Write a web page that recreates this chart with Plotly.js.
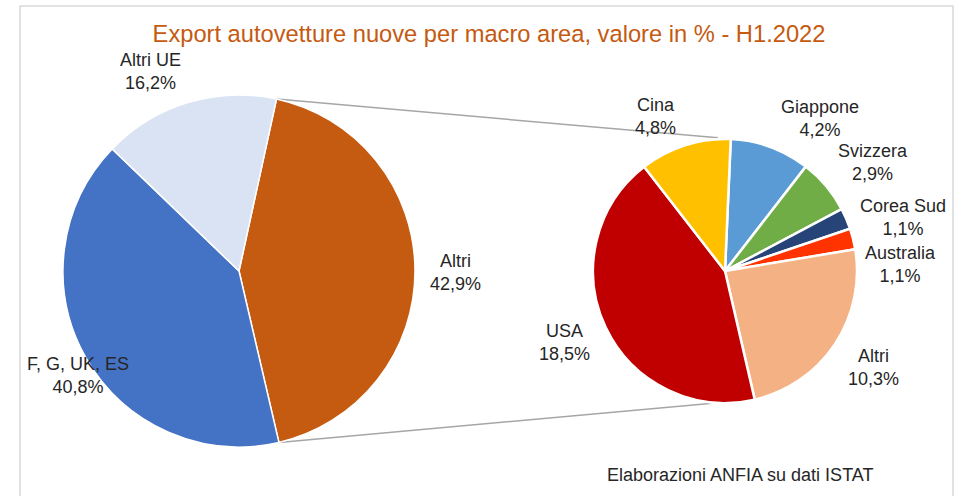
<!DOCTYPE html>
<html><head><meta charset="utf-8">
<script src="https://cdn.plot.ly/plotly-3.0.1.min.js"></script>
<style>html,body{margin:0;padding:0;background:#fff}#chart{width:962px;height:496px}</style>
</head><body><div id="chart"></div>
<script>
// ---- data ----
const mainLabels = ['Altri', 'F, G, UK, ES', 'Altri UE'];
const mainValues = [42.9, 40.8, 16.2];
const subLabels = ['Giappone', 'Svizzera', 'Corea Sud', 'Australia', 'Altri', 'USA', 'Cina'];
const subValues = [4.2, 2.9, 1.1, 1.1, 10.3, 18.5, 4.8];
const titleText = 'Export autovetture nuove per macro area, valore in % - H1.2022';
const sourceText = 'Elaborazioni ANFIA su dati ISTAT';

// ---- style ----
const mainColors = ['#C55A11', '#4472C4', '#DAE3F3'];
const subColors = ['#5B9BD5', '#70AD47', '#264478', '#FF3300', '#F4B183', '#C00000', '#FFC000'];
const W = 962, H = 496;
const FONT = 'Liberation Sans, Arial, sans-serif';
const TXT = '#262626';
const mainPie = {cx: 239, cy: 271, r: 176, rotation: 12.3, shift: [0.8, -3.3, -7.1], dist: [1.23, 1.09, 1.24]};
const subPie = {cx: 725, cy: 271, r: 132, rotation: 2.5, shift: [11.8, 4, 6.7, 12.1, -0.7, 1.5, -6.5], dist: [1.36, 1.39, 1.41, 1.33, 1.34, 1.33, 1.28]};

function domainOf(p) {
  return {x: [(p.cx - p.r) / W, (p.cx + p.r) / W], y: [1 - (p.cy + p.r) / H, 1 - (p.cy - p.r) / H]};
}
function pt(p, ang, k) {
  const a = ang * Math.PI / 180;
  return [(p.cx + k * p.r * Math.sin(a)) / W, 1 - (p.cy - k * p.r * Math.cos(a)) / H];
}
function fmt(v) { return v.toFixed(1).replace('.', ',') + '%'; }
function labelAnns(p, labels, values) {
  const tot = values.reduce((a, b) => a + b, 0);
  let start = p.rotation;
  const out = [];
  values.forEach((v, i) => {
    const span = v / tot * 360;
    const mid = start + span / 2;
    const xy = pt(p, mid + p.shift[i], p.dist[i]);
    out.push({x: xy[0], y: xy[1], xref: 'paper', yref: 'paper', xanchor: 'center', yanchor: 'middle',
      text: labels[i] + '<br>' + fmt(v), showarrow: false, align: 'center',
      font: {family: FONT, size: 18, color: TXT}});
    start += span;
  });
  return out;
}

const traces = [
  {type: 'pie', labels: mainLabels, values: mainValues, sort: false, direction: 'clockwise',
   rotation: mainPie.rotation, domain: domainOf(mainPie), textinfo: 'none', hoverinfo: 'label+value',
   marker: {colors: mainColors, line: {color: '#ffffff', width: 1.5}}, showlegend: false},
  {type: 'pie', labels: subLabels, values: subValues, sort: false, direction: 'clockwise',
   rotation: subPie.rotation, domain: domainOf(subPie), textinfo: 'none', hoverinfo: 'label+value',
   marker: {colors: subColors, line: {color: '#ffffff', width: 2.5}}, showlegend: false}
];

// connector lines from the split slice ("Altri") to the secondary pie
const mainTot = mainValues.reduce((a, b) => a + b, 0);
const splitStart = mainPie.rotation, splitEnd = mainPie.rotation + mainValues[0] / mainTot * 360;
const a0 = pt(mainPie, splitStart, 1), a1 = pt(mainPie, splitEnd, 1);
const b0 = pt(subPie, -3, 1.01), b1 = pt(subPie, 183, 1.0);

const shapes = [
  {type: 'rect', xref: 'paper', yref: 'paper', x0: 20 / W, x1: 953 / W, y0: -0.05, y1: 1 - 6 / H,
   line: {color: '#d9d9d9', width: 1.5}, fillcolor: 'rgba(0,0,0,0)', layer: 'below'},
  {type: 'line', xref: 'paper', yref: 'paper', x0: a0[0], y0: a0[1], x1: b0[0], y1: b0[1],
   line: {color: '#a6a6a6', width: 1.5}, layer: 'below'},
  {type: 'line', xref: 'paper', yref: 'paper', x0: a1[0], y0: a1[1], x1: b1[0], y1: b1[1],
   line: {color: '#a6a6a6', width: 1.5}, layer: 'below'}
];

const annotations = labelAnns(mainPie, mainLabels, mainValues)
  .concat(labelAnns(subPie, subLabels, subValues))
  .concat([{x: 740 / W, y: 1 - 475 / H, xref: 'paper', yref: 'paper', xanchor: 'center', yanchor: 'middle',
    text: sourceText, showarrow: false, font: {family: FONT, size: 18, color: TXT}}]);

const layout = {
  width: W, height: H, margin: {l: 0, r: 0, t: 0, b: 0},
  paper_bgcolor: '#ffffff',
  title: {text: titleText, x: 489 / W, xanchor: 'center', y: 1 - 34 / H, yanchor: 'middle', yref: 'container',
    font: {family: FONT, size: 23.7, color: '#C55A11'}},
  shapes: shapes, annotations: annotations, showlegend: false
};
Plotly.newPlot('chart', traces, layout, {displayModeBar: false, staticPlot: true});
</script></body></html>
